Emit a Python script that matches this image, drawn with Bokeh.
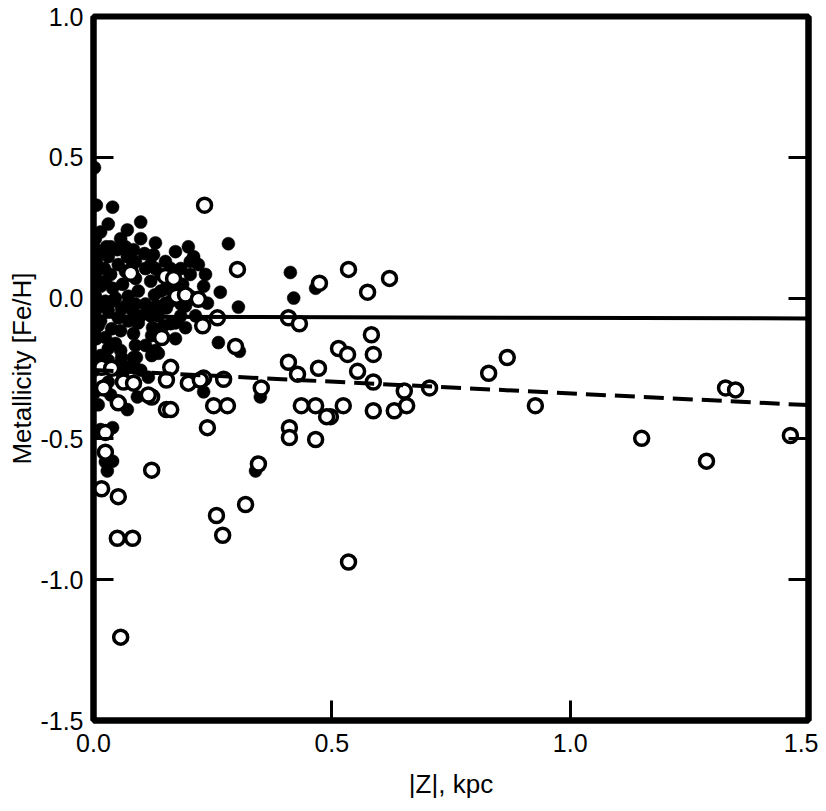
from bokeh.plotting import figure
from bokeh.models import LinearAxis, FixedTicker, Range1d
from bokeh.embed import file_html
from bokeh.resources import INLINE

# Thin-disk stars (filled circles)
thin_z = [0.002, 0.006, 0.040, 0.031, 0.071, 0.099, 0.027, 0.050, 0.084, 0.107,
          0.126, 0.151, 0.220, 0.283, 0.203, 0.231, 0.266, 0.304, 0.239, 0.128,
          0.151, 0.172, 0.094, 0.124, 0.084, 0.147, 0.413, 0.420, 0.466, 0.262,
          0.306, 0.350, 0.340, 0.231, 0.002, 0.010, 0.002, 0.040, 0.025, 0.115,
          0.130, 0.088, 0.073, 0.084, 0.061, 0.025, 0.052, 0.071, 0.092, 0.050,
          0.025, 0.040, 0.029, 0.153, 0.132, 0.111, 0.080, 0.059, 0.031, 0.038,
          0.010, 0.006, 0.031, 0.059, 0.090, 0.069, 0.122, 0.136, 0.172, 0.059,
          0.031, 0.015, 0.122, 0.004, 0.015, 0.006, 0.023, 0.004, 0.036, 0.052,
          0.067, 0.015, 0.040, 0.061, 0.088, 0.109, 0.120, 0.141, 0.162, 0.004,
          0.025, 0.046, 0.073, 0.094, 0.109, 0.172, 0.187, 0.004, 0.015, 0.052,
          0.073, 0.099, 0.136, 0.193, 0.004, 0.025, 0.046, 0.109, 0.193, 0.183,
          0.130, 0.015, 0.071, 0.057, 0.099, 0.120, 0.082, 0.031, 0.001, 0.141,
          0.162, 0.183, 0.214, 0.057, 0.088, 0.015, 0.002, 0.036, 0.067, 0.025,
          0.235, 0.210, 0.172, 0.199, 0.010, 0.036, 0.067, 0.088, 0.130, 0.151,
          0.040, 0.088, 0.120, 0.162, 0.015, 0.057, 0.088, 0.183, 0.203, 0.203,
          0.031, 0.099]
thin_feh = [0.463, 0.330, 0.323, 0.263, 0.242, 0.270, 0.182, 0.172, 0.172, 0.158,
            0.154, 0.130, 0.119, 0.193, 0.084, 0.042, 0.021, -0.032, -0.018, 0.011,
            -0.018, -0.088, -0.088, -0.105, -0.126, -0.098, 0.091, 0.000, 0.035, -0.158,
            -0.189, -0.351, -0.614, -0.333, -0.337, -0.379, -0.474, -0.460, -0.474, -0.281,
            -0.186, -0.249, -0.246, -0.211, -0.274, -0.214, -0.239, -0.396, -0.351, -0.368,
            -0.582, -0.579, -0.614, -0.035, -0.028, -0.028, -0.039, -0.039, -0.046, -0.109,
            -0.098, -0.144, -0.179, -0.211, -0.211, -0.246, -0.204, -0.196, -0.144, -0.298,
            -0.298, -0.467, -0.133, 0.211, 0.165, 0.130, 0.105, 0.077, 0.084, 0.119,
            0.095, 0.042, 0.035, 0.049, 0.070, 0.105, 0.060, 0.084, 0.105, 0.007,
            -0.011, 0.000, 0.007, 0.025, -0.021, 0.032, 0.049, -0.046, -0.081, -0.070,
            -0.081, -0.063, -0.063, -0.028, -0.133, -0.140, -0.161, -0.168, -0.105, 0.105,
            0.196, 0.235, 0.147, 0.211, 0.211, 0.119, 0.119, 0.147, 0.182, 0.025,
            -0.011, -0.063, -0.063, -0.116, -0.168, -0.204, -0.256, -0.344, -0.028, 0.060,
            0.084, 0.147, 0.165, 0.182, 0.105, 0.182, 0.182, 0.130, 0.105, 0.032,
            -0.011, -0.021, -0.063, -0.091, -0.028, -0.186, -0.081, -0.021, 0.007, 0.130,
            -0.221, -0.256]

# Thick-disk stars (open circles)
thick_z = [0.233, 0.302, 0.535, 0.621, 0.575, 0.474, 0.260, 0.409, 0.432, 0.229,
           0.298, 0.514, 0.533, 0.583, 0.587, 0.554, 0.587, 0.652, 0.705, 0.524,
           0.497, 0.587, 0.631, 0.657, 0.829, 0.868, 0.927, 1.150, 1.286, 1.326,
           1.347, 1.462, 0.535, 0.409, 0.428, 0.472, 0.273, 0.231, 0.352, 0.252,
           0.281, 0.239, 0.411, 0.411, 0.436, 0.466, 0.489, 0.466, 0.346, 0.319,
           0.258, 0.271, 0.122, 0.017, 0.052, 0.050, 0.082, 0.057, 0.025, 0.122,
           0.199, 0.224, 0.153, 0.162, 0.143, 0.162, 0.153, 0.115, 0.052, 0.017,
           0.038, 0.063, 0.021, 0.084, 0.025, 0.151, 0.168, 0.078, 0.174, 0.193,
           0.220]
thick_feh = [0.330, 0.102, 0.102, 0.070, 0.021, 0.053, -0.070, -0.070, -0.091, -0.098,
             -0.172, -0.179, -0.200, -0.130, -0.200, -0.260, -0.298, -0.330, -0.319, -0.382,
             -0.421, -0.400, -0.400, -0.382, -0.267, -0.211, -0.382, -0.498, -0.579, -0.319,
             -0.326, -0.488, -0.937, -0.228, -0.270, -0.249, -0.288, -0.284, -0.319, -0.382,
             -0.382, -0.460, -0.460, -0.495, -0.382, -0.382, -0.421, -0.502, -0.589, -0.733,
             -0.772, -0.842, -0.611, -0.677, -0.705, -0.853, -0.853, -1.204, -0.547, -0.351,
             -0.302, -0.291, -0.396, -0.396, -0.140, -0.246, -0.291, -0.344, -0.372, -0.246,
             -0.249, -0.298, -0.319, -0.302, -0.477, 0.077, 0.070, 0.088, 0.007, 0.011,
             -0.004]

# Mean relations
thin_fit_z = [0.0, 1.5]
thin_fit_feh = [-0.066, -0.072]
thick_fit_z = [0.0, 1.5]
thick_fit_feh = [-0.255, -0.380]

x_ticks = [0.0, 0.5, 1.0, 1.5]
x_labels = ["0.0", "0.5", "1.0", "1.5"]
y_ticks = [-1.5, -1.0, -0.5, 0.0, 0.5, 1.0]
y_labels = ["-1.5", "-1.0", "-0.5", "0.0", "0.5", "1.0"]

FONT = "Liberation Sans"

p = figure(width=818, height=808, output_backend="svg", toolbar_location=None,
           x_range=Range1d(0, 1.5), y_range=Range1d(-1.5, 1.0),
           min_border_left=93, min_border_right=10, min_border_top=16,
           min_border_bottom=88)
p.xgrid.visible = False
p.ygrid.visible = False
p.outline_line_color = "black"
p.outline_line_width = 6
p.background_fill_color = "white"
p.border_fill_color = "white"

p.scatter(thin_z, thin_feh, size=13, marker="circle",
          fill_color="black", line_color="black", line_width=0.5)
p.scatter(thick_z, thick_feh, size=14, marker="circle",
          fill_color="white", line_color="black", line_width=3.5)

p.line(thin_fit_z, thin_fit_feh, line_color="black", line_width=4)
p.line(thick_fit_z, thick_fit_feh, line_color="black", line_width=4,
       line_dash="20 9")

xa = p.xaxis[0]
xa.ticker = FixedTicker(ticks=x_ticks)
xa.major_label_overrides = dict(zip(x_ticks, x_labels))
xa.axis_label = "|Z|, kpc"
xa.major_label_standoff = 13
xa.axis_label_standoff = 14

ya = p.yaxis[0]
ya.ticker = FixedTicker(ticks=y_ticks)
ya.major_label_overrides = dict(zip(y_ticks, y_labels))
ya.axis_label = "Metallicity [Fe/H]"
ya.major_label_standoff = 10
ya.axis_label_standoff = 0

ra = LinearAxis(ticker=FixedTicker(ticks=y_ticks))
ra.major_label_overrides = {t: "" for t in y_ticks}
ra.major_label_standoff = 0
p.add_layout(ra, "right")

for ax in [xa, ya, ra]:
    ax.axis_line_width = 6
    ax.axis_line_color = "black"
    ax.major_tick_in = 20
    ax.major_tick_out = 0
    ax.major_tick_line_width = 3
    ax.minor_tick_in = 0
    ax.minor_tick_out = 0
    ax.minor_tick_line_color = None
    ax.major_label_text_font = FONT
    ax.major_label_text_font_size = "25px"
    ax.major_label_text_color = "black"
    ax.axis_label_text_font = FONT
    ax.axis_label_text_font_size = "26px"
    ax.axis_label_text_font_style = "normal"
    ax.axis_label_text_color = "black"

open("out.html", "w").write(file_html(p, INLINE))
